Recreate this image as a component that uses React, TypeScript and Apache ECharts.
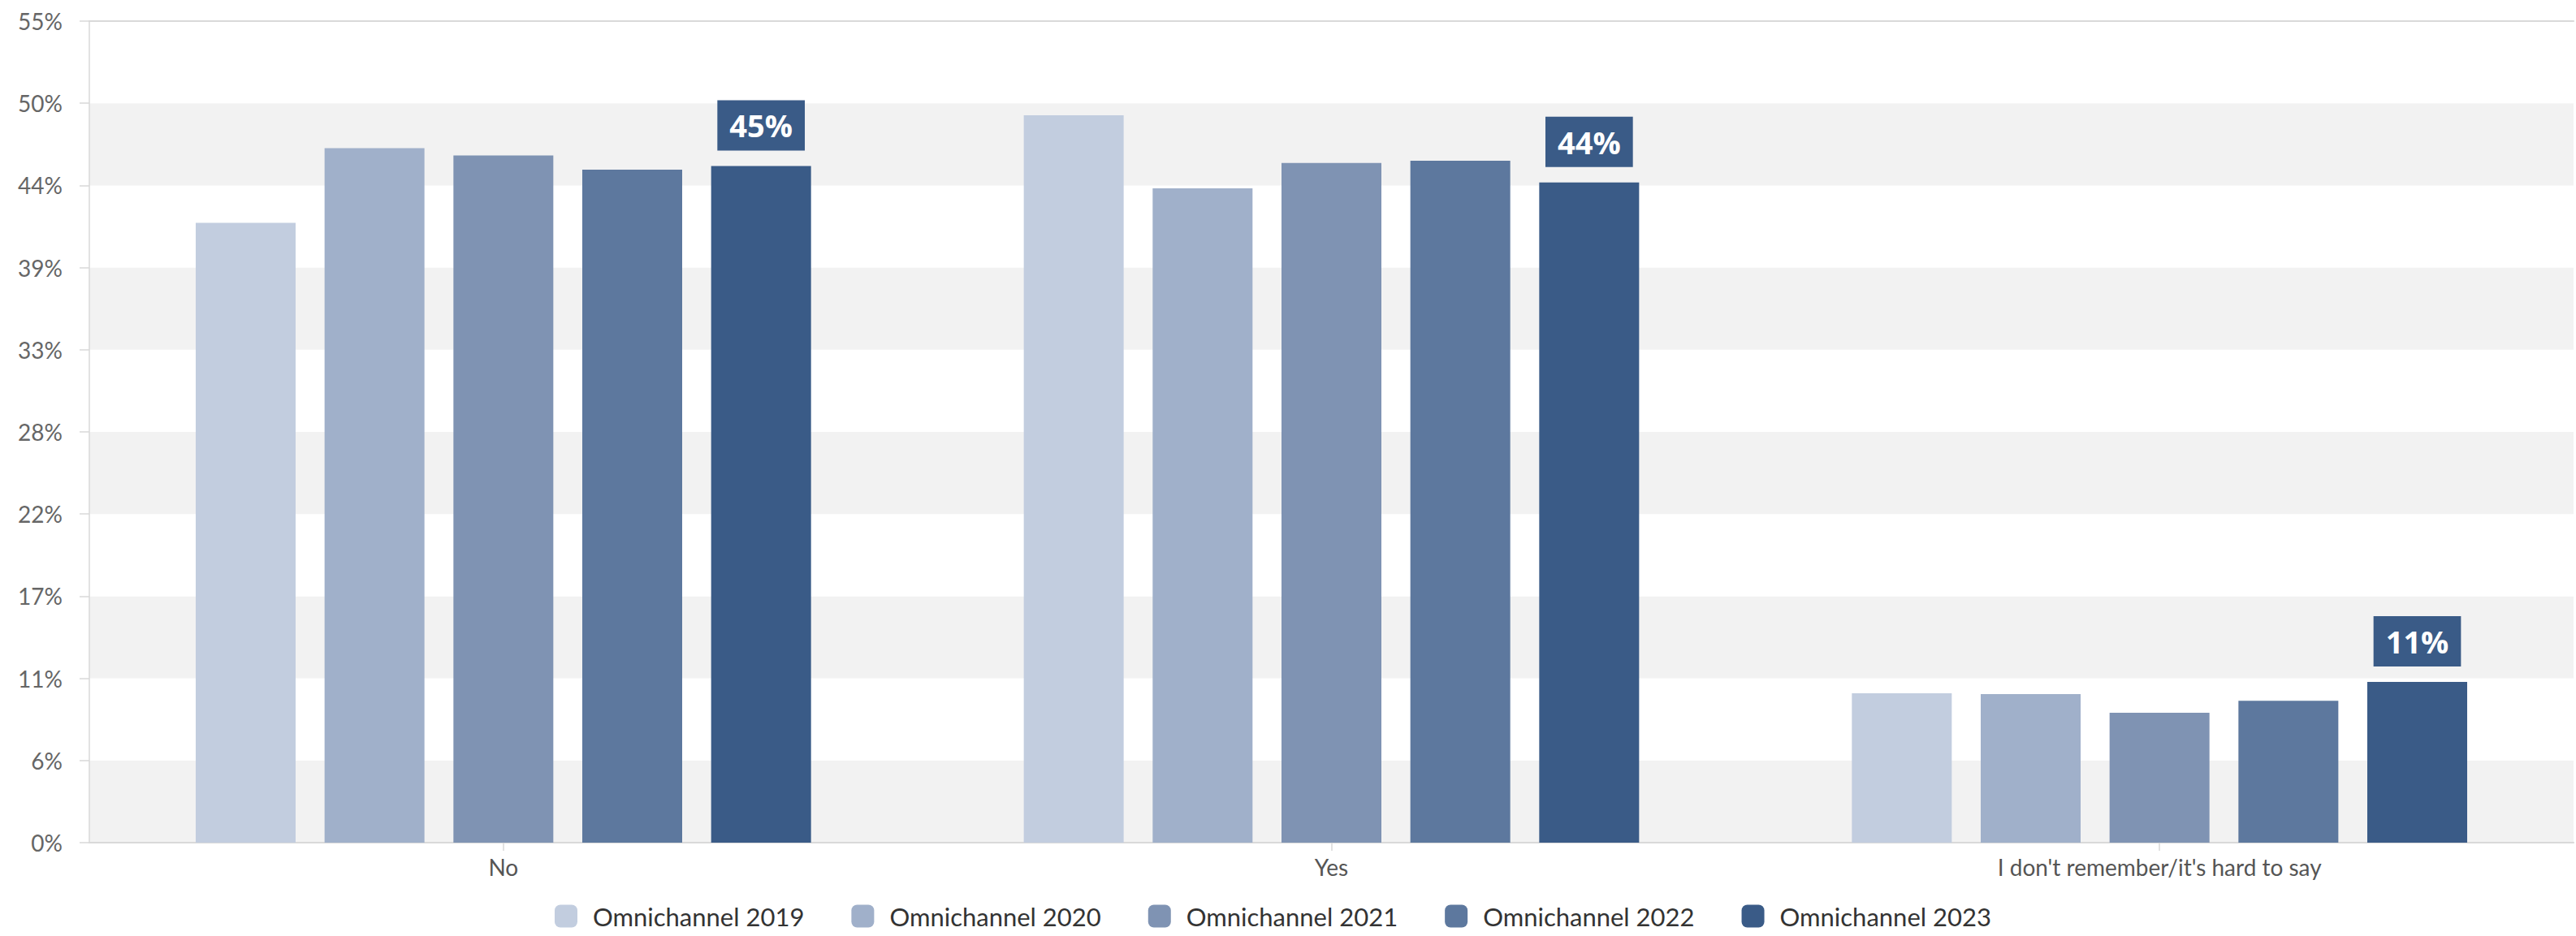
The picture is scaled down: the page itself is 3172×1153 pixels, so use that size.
import React, { useEffect, useRef } from "react";
import * as echarts from "echarts";

const categories = ["No", "Yes", "I don't remember/it's hard to say"];
const seriesNames = [
  "Omnichannel 2019",
  "Omnichannel 2020",
  "Omnichannel 2021",
  "Omnichannel 2022",
  "Omnichannel 2023",
];
const values2019 = [41.5, 48.7, 10.0];
const values2020 = [46.5, 43.8, 9.95];
const values2021 = [46.0, 45.5, 8.7];
const values2022 = [45.05, 45.65, 9.5];
const values2023 = [45.3, 44.2, 10.76];
const seriesValues = [values2019, values2020, values2021, values2022, values2023];
const colors = ["#c2cddf", "#a0b0ca", "#7f93b3", "#5d789e", "#3a5b87"];
const yMax = 55;
const yInterval = 5.5;

export default function App() {
  const ref = useRef<HTMLDivElement>(null);
  useEffect(() => {
    if (!ref.current) return;
    const chart = echarts.init(ref.current, undefined, { renderer: "svg" });
    const axisFont = "Lato, 'Noto Sans', sans-serif";
    chart.setOption({
      animation: false,
      backgroundColor: "#ffffff",
      grid: { left: 110, right: 3, top: 26, bottom: 115, containLabel: false },
      legend: {
        data: seriesNames,
        bottom: 4,
        left: 678,
        icon: "roundRect",
        itemWidth: 28,
        itemHeight: 28,
        itemGap: 58,
        textStyle: {
          fontFamily: axisFont,
          fontSize: 31,
          color: "#333333",
          padding: [0, 0, 0, 14],
        },
      },
      xAxis: [
        {
          type: "category",
          data: categories,
          axisLine: { show: true, lineStyle: { color: "#d9d9d9", width: 2 } },
          axisTick: {
            show: true,
            alignWithLabel: true,
            length: 10,
            lineStyle: { color: "#d9d9d9", width: 1.5 },
          },
          axisLabel: {
            fontFamily: axisFont,
            fontSize: 28,
            color: "#555555",
            margin: 16,
          },
          splitLine: { show: false },
        },
        {
          type: "category",
          data: categories,
          position: "top",
          axisLine: { show: true, lineStyle: { color: "#d9d9d9", width: 2 } },
          axisTick: { show: false },
          axisLabel: { show: false },
          splitLine: { show: false },
        },
      ],
      yAxis: {
        type: "value",
        min: 0,
        max: yMax,
        interval: yInterval,
        axisLine: { show: true, lineStyle: { color: "#d9d9d9", width: 1.5 } },
        axisTick: { show: true, length: 12, lineStyle: { color: "#d9d9d9", width: 1.5 } },
        axisLabel: {
          fontFamily: axisFont,
          fontSize: 28,
          color: "#666666",
          margin: 33,
          formatter: (v: number) => Math.round(v) + "%",
        },
        splitLine: { show: false },
        splitArea: { show: true, areaStyle: { color: ["#f2f2f2", "#ffffff"] } },
      },
      series: seriesNames.map((name, i) => ({
        name,
        type: "bar",
        data: seriesValues[i],
        barWidth: 123,
        barGap: "29%",
        itemStyle: { color: colors[i] },
        label:
          i === seriesNames.length - 1
            ? {
                show: true,
                position: "top",
                distance: 19,
                backgroundColor: colors[i],
                color: "#ffffff",
                fontFamily: "'Open Sans', 'Noto Sans', sans-serif",
                fontWeight: "bold",
                fontSize: 38,
                lineHeight: 46,
                padding: [8, 15],
                formatter: (p: any) => Math.round(p.value) + "%",
              }
            : { show: false },
      })),
    });
    return () => chart.dispose();
  }, []);
  return (
    <div
      ref={ref}
      style={{ position: "fixed", left: 0, top: 0, width: 3172, height: 1153 }}
    />
  );
}
